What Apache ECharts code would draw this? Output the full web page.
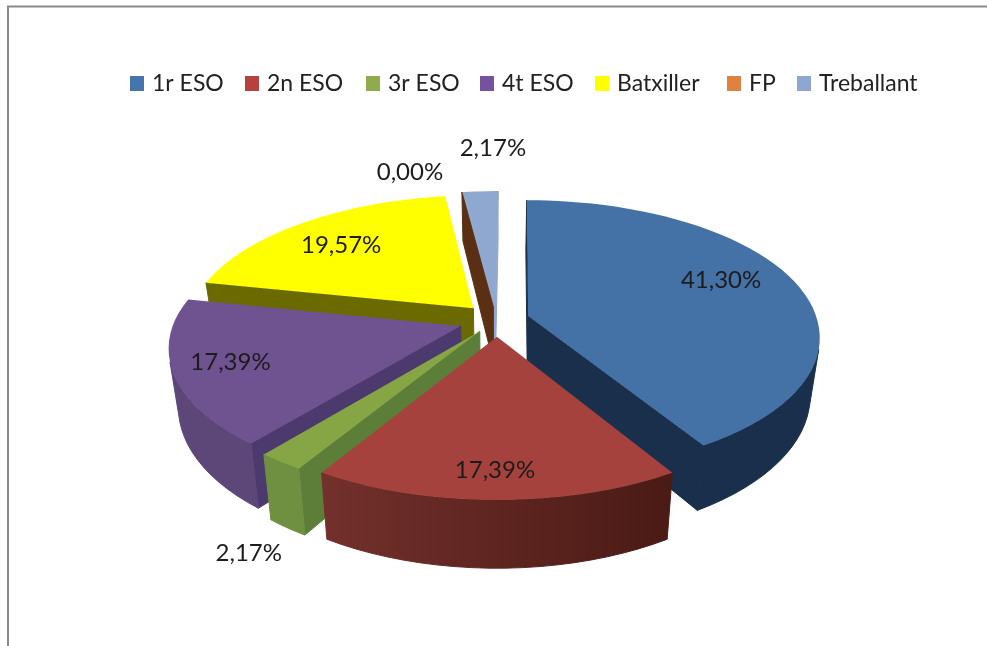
<!DOCTYPE html>
<html><head><meta charset="utf-8">
<style>html,body{margin:0;padding:0;background:#fff}#c{width:987px;height:646px}</style>
<script src="https://cdn.jsdelivr.net/npm/echarts@6/dist/echarts.min.js"></script>
</head><body><div id="c"></div>
<script>
const categories = ['1r ESO','2n ESO','3r ESO','4t ESO','Batxiller','FP','Treballant'];
const values = [41.30,17.39,2.17,17.39,19.57,0.00,2.17];
const topColors = ['#4471a6','#a5423e','#86a545','#6f5290','#ffff00','#e0833c','#8fa8d0'];
const legendColors = ['#4575ad','#b5423e','#8fab4e','#7552a0','#ffff00','#de823e','#8ea6d2'];
const outerWall = [['#1a2f4c','#1a2f4c'],['#73302c','#4a1a15'],['#6f9040','#6f9040'],['#5d4678','#5d4678'],['#6a6a00','#6a6a00'],['#5a2f14','#5a2f14'],['#5f7da5','#5f7da5']];
const faceColors = ['#1a2f4c','#4a1a15','#5c7e38','#4c3a6e','#6a6a00','#5a2f14','#8fa8d0'];
const drawOrder = [5,7,6,4,1,3,2];
const explodeBy = [0.11,0.12,0.1,0.13,0.12,0.1,0.1];
const radiusBy = [0.98,0.98,1,0.97,0.97,1,1];
const labelRadius = [0.74,0.84,1.0,0.85,0.7,1.3,1.5];
const labelShift = [[-10,-9],[-2,-3],[-32,91],[20,-5],[-6,0],[-44,9],[18,4]];
const legendLeft = [130,245,366,480,595,727,797];

const CX=497, CY=320, RX=295, RY=136.6, P=0.15, BACK_SHIFT=20, DEPTH=57, BOTTOM_SHRINK=0.97;
const total = values.reduce((a,b)=>a+b,0);
const spans = []; { let c=0; values.forEach(v=>{ spans.push([c/total*2*Math.PI,(c+v)/total*2*Math.PI]); c+=v; }); }
function planar(i,ang,r){
  const mid=(spans[i][0]+spans[i][1])/2, e=explodeBy[i];
  return [Math.sin(ang)*r+Math.sin(mid)*e, -Math.cos(ang)*r-Math.cos(mid)*e];
}
function scaleAt(p){ return 1/(1-P*p[1]); }
function backShift(p,s){ return p[1]<0 ? BACK_SHIFT*(1-s) : 0; }
function projTop(p){ const s=scaleAt(p); return [CX+RX*p[0]*s+backShift(p,s), CY+RY*p[1]*s]; }
function projBot(p){ const s=scaleAt(p); return [CX+(RX*p[0]*s+backShift(p,s))*BOTTOM_SHRINK, CY+RY*p[1]*s+DEPTH*s]; }
function area(q){ let a=0; q.forEach((pt,k)=>{const n=q[(k+1)%q.length]; a+=pt[0]*n[1]-n[0]*pt[1];}); return a; }
function quad(a,b){ return [projTop(a),projTop(b),projBot(b),projBot(a)]; }

function sliceItem(params){
  const i=params.seriesIndex, [a,b]=spans[i], apex=planar(i,0,0), r=radiusBy[i];
  const n=Math.max(1,Math.round((b-a)/(2*Math.PI)*360/3));
  const arc=[]; for(let k=0;k<=n;k++) arc.push(planar(i,a+(b-a)*k/n,r));
  const children=[];
  const face=(u,v)=>{ const q=quad(u,v); if(area(q)<0) children.push({type:'polygon',silent:true,shape:{points:q},style:{fill:faceColors[i],stroke:faceColors[i],lineWidth:1}}); };
  face(apex,arc[0]); face(arc[n],apex);
  if(b>a){
    const tops=[],bots=[];
    for(let k=0;k<n;k++){
      if(area(quad(arc[k],arc[k+1]))<0){
        if(!tops.length){tops.push(projTop(arc[k]));bots.push(projBot(arc[k]));}
        tops.push(projTop(arc[k+1]));bots.push(projBot(arc[k+1]));
      }
    }
    if(tops.length){
      const grad=()=>new echarts.graphic.LinearGradient(0,0,1,0,[{offset:0,color:outerWall[i][0]},{offset:1,color:outerWall[i][1]}]);
      children.push({type:'polygon',silent:true,shape:{points:tops.concat(bots.reverse())},
        style:{fill:grad(),stroke:grad(),lineWidth:1}});
    }
    children.push({type:'polygon',silent:true,shape:{points:[apex].concat(arc).map(projTop)},style:{fill:topColors[i]}});
  }
  return {type:'group',children};
}
function labelItem(params,api){
  const i=params.dataIndex, mid=(spans[i][0]+spans[i][1])/2;
  const p=projTop(planar(i,mid,labelRadius[i]));
  return {type:'text',silent:true,x:p[0]+labelShift[i][0],y:p[1]+labelShift[i][1],
    style:{text:api.value(0).toFixed(2).replace('.',',')+'%',fill:'#1c1c1c',font:'24px Lato',align:'center',verticalAlign:'middle'}};
}
const series = categories.map((name,i)=>({type:'custom',name,coordinateSystem:'none',z:drawOrder[i],
  itemStyle:{color:legendColors[i]},data:[[values[i]]],renderItem:sliceItem,animation:false}));
series.push({type:'custom',name:'labels',coordinateSystem:'none',z:20,data:values.map(v=>[v]),renderItem:labelItem,animation:false});

const legends = categories.map((name,i)=>({data:[name],left:legendLeft[i],top:72,padding:0,icon:'rect',itemWidth:14,itemHeight:15,selectedMode:false,
  textStyle:{fontFamily:'Lato',fontSize:23,color:'#222',padding:[0,0,0,3]}}));

const chart=echarts.init(document.getElementById('c'),null,{renderer:'canvas'});
chart.setOption({
  animation:false,backgroundColor:'#fff',
  legend:legends,
  graphic:[{type:'polyline',silent:true,shape:{points:[[8,646],[8,6.5],[987,6.5]]},style:{stroke:'#8a8a8a',lineWidth:2,fill:null}}],
  series
});
</script></body></html>
